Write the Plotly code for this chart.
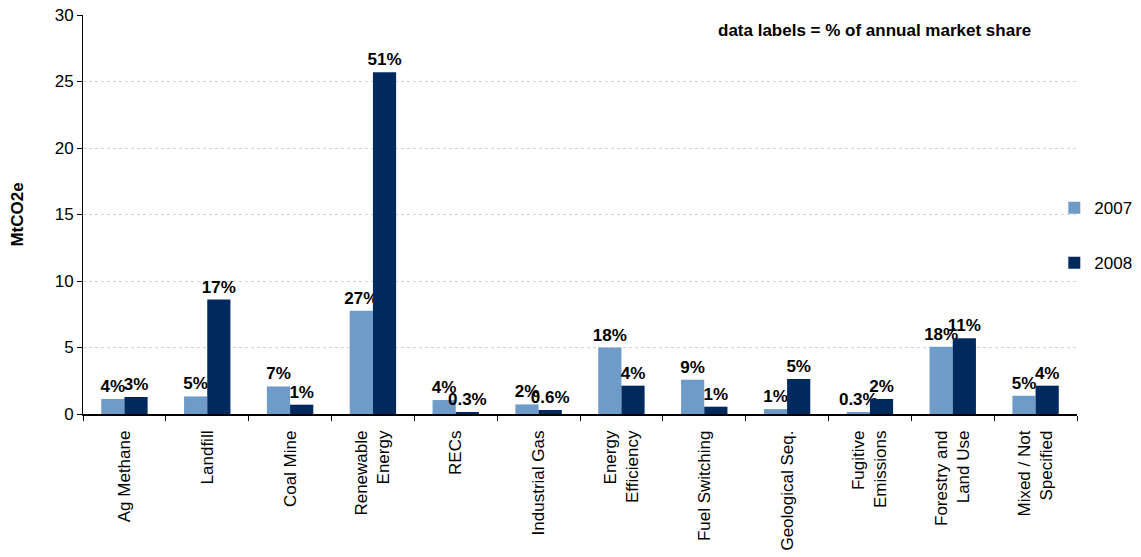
import plotly.graph_objects as go

categories = ["Ag Methane", "Landfill", "Coal Mine", "Renewable<br>Energy", "RECs",
              "Industrial Gas", "Energy<br>Efficiency", "Fuel Switching", "Geological Seq.",
              "Fugitive<br>Emissions", "Forestry and<br>Land Use", "Mixed / Not<br>Specified"]
values_2007 = [1.13, 1.32, 2.07, 7.77, 1.05, 0.72, 5.0, 2.58, 0.37, 0.08, 5.05, 1.37]
values_2008 = [1.28, 8.6, 0.7, 25.7, 0.15, 0.3, 2.13, 0.55, 2.63, 1.13, 5.7, 2.13]
labels_2007 = ["4%", "5%", "7%", "27%", "4%", "2%", "18%", "9%", "1%", "0.3%", "18%", "5%"]
labels_2008 = ["3%", "17%", "1%", "51%", "0.3%", "0.6%", "4%", "1%", "5%", "2%", "11%", "4%"]

FONT = "Liberation Sans, Arial, sans-serif"

fig = go.Figure()
fig.add_trace(go.Bar(
    x=categories, y=values_2007, name="2007", text=labels_2007,
    texttemplate="<b>%{text}</b>", textposition="outside", constraintext="none",
    cliponaxis=False, marker=dict(color="#6f9bc8", line=dict(width=0)),
    textfont=dict(size=17, color="#000000", family=FONT), legendgroup="a"))
fig.add_trace(go.Bar(
    x=categories, y=values_2008, name="2008", text=labels_2008,
    texttemplate="<b>%{text}</b>", textposition="outside", constraintext="none",
    cliponaxis=False, marker=dict(color="#002a5e", line=dict(width=0)),
    textfont=dict(size=17, color="#000000", family=FONT), legendgroup="b"))

fig.update_layout(
    width=1141, height=557,
    margin=dict(l=75, r=72, t=7, b=151, autoexpand=False),
    paper_bgcolor="white", plot_bgcolor="white",
    font=dict(family=FONT, size=17, color="#000000"),
    barmode="group", bargap=0.44, bargroupgap=0,
    showlegend=True,
    legend=dict(xref="container", yref="container", x=0.917, y=0.673,
                xanchor="left", yanchor="top",
                font=dict(size=17), tracegroupgap=30, traceorder="grouped",
                itemwidth=30, bgcolor="rgba(0,0,0,0)"),
    annotations=[dict(text="<b>data labels = % of annual market share</b>",
                      xref="paper", yref="paper", x=0.9557, y=0.962,
                      xanchor="right", yanchor="middle", showarrow=False,
                      font=dict(size=17, family=FONT))],
)
fig.update_xaxes(showline=True, linecolor="#000000", linewidth=1.5,
                 ticks="outside", tickson="boundaries", ticklen=5, tickcolor="#000000",
                 tickangle=-90, tickfont=dict(size=17), showgrid=False,
                 automargin=False, ticklabelstandoff=8, ticklabeloverflow="allow")
fig.update_yaxes(range=[0, 30], dtick=5, showline=True, linecolor="#000000", linewidth=1,
                 ticks="outside", ticklen=5, tickcolor="#000000",
                 showgrid=True, gridcolor="#d4d4d4", griddash="dot", gridwidth=1,
                 zeroline=False, tickfont=dict(size=17), automargin=False,
                 ticklabeloverflow="allow",
                 title=dict(text="<b>MtCO2e</b>", font=dict(size=17), standoff=26))

fig.write_html("out.html")
